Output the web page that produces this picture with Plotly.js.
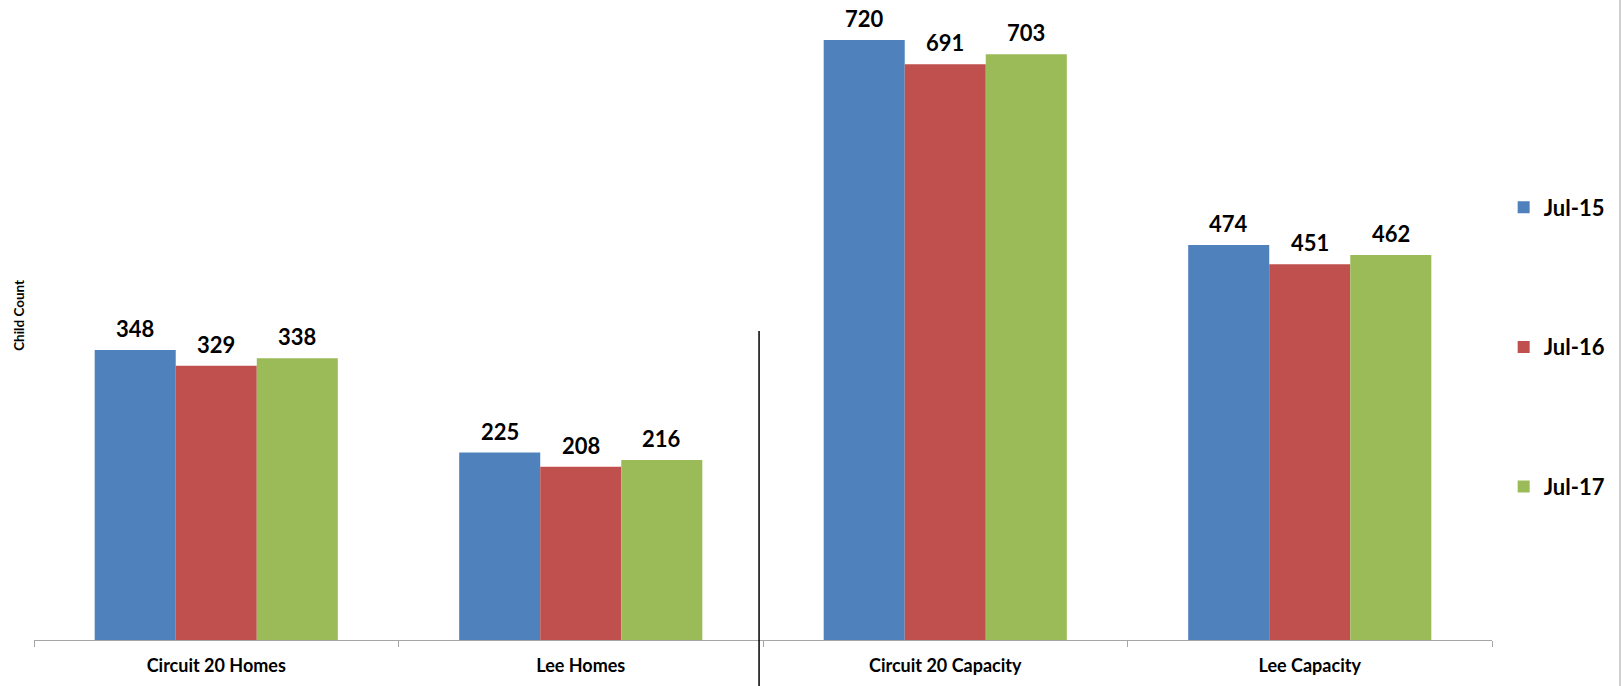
<!DOCTYPE html>
<html>
<head>
<meta charset="utf-8">
<script src="https://cdn.plot.ly/plotly-3.0.1.min.js"></script>
<style>html,body{margin:0;padding:0;background:#fff;}#chart{width:1622px;height:686px;}</style>
</head>
<body>
<div id="chart"></div>
<script>
const categories = ["Circuit 20 Homes", "Lee Homes", "Circuit 20 Capacity", "Lee Capacity"];
const seriesNames = ["Jul-15", "Jul-16", "Jul-17"];
const jul15 = [348, 225, 720, 474];
const jul16 = [329, 208, 691, 451];
const jul17 = [338, 216, 703, 462];
const yTitle = "Child Count";

const seriesValues = [jul15, jul16, jul17];
const colors = ["#4F81BD", "#C0504D", "#9BBB59"];
const FONT = "Lato, 'Open Sans', sans-serif";

const traces = seriesValues.map((vals, s) => ({
  type: "bar",
  name: seriesNames[s],
  x: categories,
  y: vals,
  marker: {color: colors[s], line: {width: 0}},
  legendgroup: "g" + s,
  hoverinfo: "x+y+name"
}));

const bargap = 0.333;
const barW = (1 - bargap) / 3;
const annotations = [];
seriesValues.forEach((vals, s) => {
  vals.forEach((v, i) => {
    annotations.push({
      xref: "x", yref: "y",
      x: i + (s - 1) * barW, y: v,
      text: String(v), showarrow: false,
      yanchor: "bottom", yshift: 6,
      font: {family: FONT, size: 22, color: "#000", weight: 700}
    });
  });
});
annotations.push({
  xref: "paper", yref: "paper", x: -0.0103, y: 0.508,
  xanchor: "center", yanchor: "middle",
  text: yTitle, textangle: -90, showarrow: false,
  font: {family: FONT, size: 13.5, color: "#000", weight: 700}
});

const layout = {
  width: 1622, height: 686,
  margin: {l: 34, r: 130, t: 0, b: 46},
  paper_bgcolor: "#fff", plot_bgcolor: "#fff",
  barmode: "group", bargap: bargap, bargroupgap: 0,
  showlegend: true,
  legend: {
    x: 1.008, xanchor: "left", y: 0.7086, yanchor: "top",
    font: {family: FONT, size: 22, color: "#000", weight: 700},
    tracegroupgap: 108, traceorder: "grouped",
    bgcolor: "rgba(0,0,0,0)"
  },
  xaxis: {
    type: "category",
    showline: true, linecolor: "#a6a6a6", linewidth: 1,
    ticks: "outside", tickson: "boundaries", ticklen: 6, tickcolor: "#a6a6a6",
    ticklabelstandoff: 9,
    tickfont: {family: FONT, size: 18, color: "#000", weight: 700},
    showgrid: false, zeroline: false, fixedrange: true
  },
  yaxis: {
    range: [0, 768], showline: false, showticklabels: false, ticks: "",
    showgrid: false, zeroline: false, fixedrange: true
  },
  annotations: annotations,
  shapes: [
    {type: "line", xref: "paper", yref: "paper", x0: 0.4973, x1: 0.4973, y0: 0.483, y1: -0.075,
     line: {color: "#000", width: 1.5}},
    {type: "line", xref: "paper", yref: "paper", x0: 1.0878, x1: 1.0878, y0: 1.0, y1: -0.075,
     line: {color: "#bfbfbf", width: 1.5}}
  ]
};

Plotly.newPlot("chart", traces, layout, {displayModeBar: false, staticPlot: true});
</script>
</body>
</html>
